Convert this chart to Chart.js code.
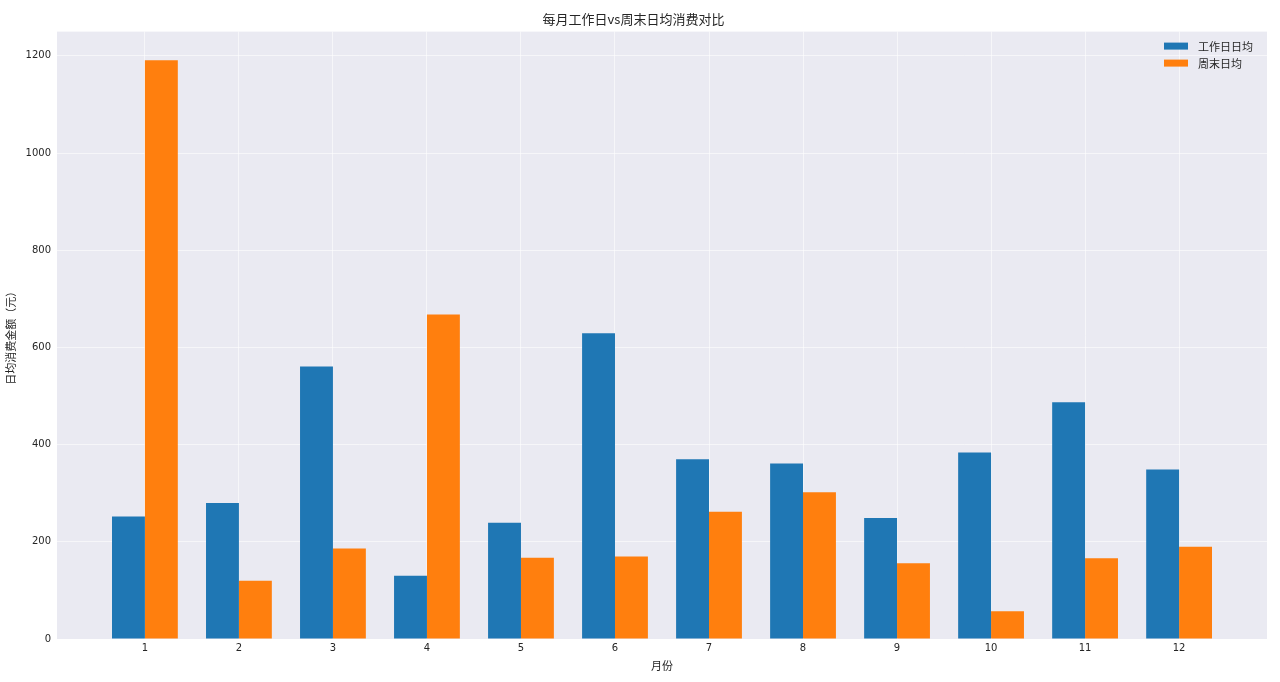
<!DOCTYPE html>
<html>
<head>
<meta charset="utf-8">
<script src="https://cdn.jsdelivr.net/npm/chart.js@4"></script>
<style>
  body { margin: 0; background: #fff; }
  #wrap { width: 1280px; height: 682px; }
</style>
</head>
<body>
<div id="wrap"><canvas id="monthChart"></canvas></div>
<script>
const months = [1, 2, 3, 4, 5, 6, 7, 8, 9, 10, 11, 12];
const weekdayAvg = [252, 280, 561, 130, 239, 629, 370, 361, 249, 384, 487, 349];
const weekendAvg = [1191, 120, 186, 668, 167, 170, 262, 302, 156, 57, 166, 190];
const yTicks = [0, 200, 400, 600, 800, 1000, 1200];

const font = "'DejaVu Sans', 'Noto Sans CJK SC', sans-serif";
const cjkFont = "'Noto Sans CJK SC', 'DejaVu Sans', sans-serif";

// matplotlib-style legend drawn inside the plot area (top right)
const innerLegend = {
  id: 'innerLegend',
  afterDraw(chart) {
    const ctx = chart.ctx;
    const area = chart.chartArea;
    ctx.save();
    chart.data.datasets.forEach((ds, i) => {
      const y = area.top + 15 + i * 17;
      ctx.fillStyle = ds.backgroundColor;
      ctx.fillRect(area.right - 103, y - 4, 24, 7);
      ctx.fillStyle = '#262626';
      ctx.font = '11px ' + cjkFont;
      ctx.textBaseline = 'middle';
      ctx.fillText(ds.label, area.right - 69, y);
    });
    ctx.restore();
  }
};

const plotBg = {
  id: 'plotBg',
  beforeDraw(chart) {
    const a = chart.chartArea;
    chart.ctx.save();
    chart.ctx.fillStyle = '#EAEAF2';
    chart.ctx.fillRect(a.left, a.top, a.right - a.left, a.bottom - a.top);
    chart.ctx.restore();
  }
};

const gridColor = 'rgba(255,255,255,0.55)';

const ctx = document.getElementById('monthChart').getContext('2d');
new Chart(ctx, {
  type: 'bar',
  data: {
    datasets: [{
      label: '工作日日均',
      data: months.map((m, i) => ({ x: m, y: weekdayAvg[i] })),
      backgroundColor: '#1f77b4',
      borderWidth: 0,
      categoryPercentage: 0.7,
      barPercentage: 1.0
    }, {
      label: '周末日均',
      data: months.map((m, i) => ({ x: m, y: weekendAvg[i] })),
      backgroundColor: '#ff7f0e',
      borderWidth: 0,
      categoryPercentage: 0.7,
      barPercentage: 1.0
    }]
  },
  options: {
    responsive: true,
    maintainAspectRatio: false,
    animation: false,
    layout: { padding: { left: 0, right: 13, top: 0, bottom: 0 } },
    plugins: {
      legend: { display: false },
      tooltip: { enabled: false },
      title: {
        display: true,
        text: '每月工作日vs周末日均消费对比',
        color: '#262626',
        font: { family: cjkFont, size: 13, weight: 'normal' },
        padding: { top: 11, bottom: 5 }
      }
    },
    scales: {
      x: {
        type: 'linear',
        min: 0.065,
        max: 12.935,
        offset: false,
        afterBuildTicks: s => { s.ticks = months.map(v => ({ value: v })); },
        afterFit: s => { s.height = 43; },
        ticks: { color: '#262626', font: { family: font, size: 10 }, padding: 3, callback: v => String(v) },
        grid: { color: gridColor, drawTicks: false, lineWidth: 1, offset: false },
        border: { display: false },
        title: {
          display: true, text: '月份', color: '#262626',
          font: { family: cjkFont, size: 11 }, padding: { top: 2, bottom: 10 }
        }
      },
      y: {
        min: 0,
        max: 1250,
        afterBuildTicks: s => { s.ticks = yTicks.map(v => ({ value: v })); },
        afterFit: s => { s.width = 57; },
        ticks: { color: '#262626', font: { family: font, size: 10 }, padding: 6, callback: v => String(v) },
        grid: { color: gridColor, drawTicks: false, lineWidth: 1 },
        border: { display: false },
        title: {
          display: true, text: '日均消费金额（元）', color: '#262626',
          font: { family: cjkFont, size: 11 }, padding: { top: 4, bottom: 0 }
        }
      }
    }
  },
  plugins: [plotBg, innerLegend]
});
</script>
</body>
</html>
